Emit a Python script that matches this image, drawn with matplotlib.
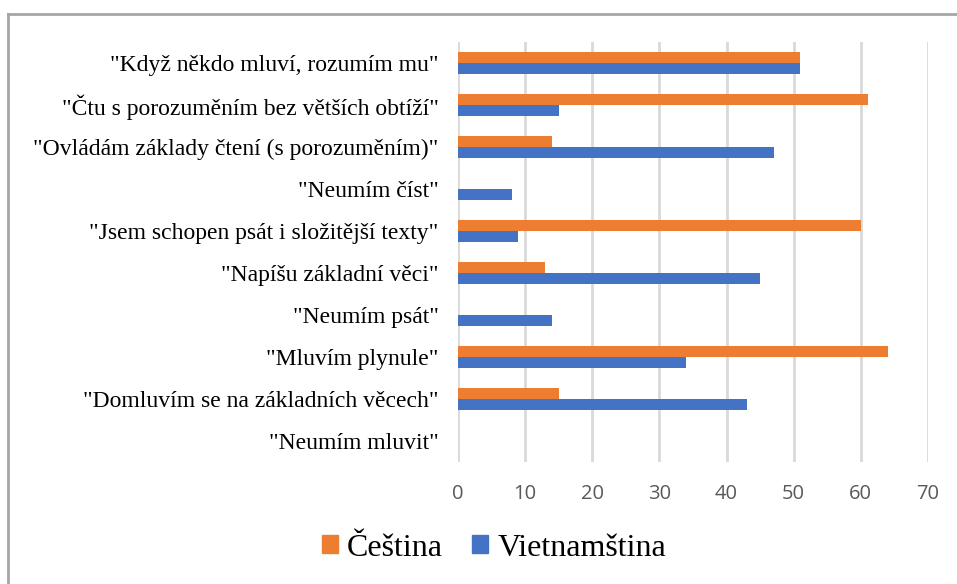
import matplotlib
matplotlib.use("Agg")
import matplotlib.pyplot as plt
from matplotlib.lines import Line2D
from matplotlib.patches import Patch
import numpy as np

categories = [
    '"Když někdo mluví, rozumím mu"',
    '"Čtu s porozuměním bez větších obtíží"',
    '"Ovládám základy čtení (s porozuměním)"',
    '"Neumím číst"',
    '"Jsem schopen psát i složitější texty"',
    '"Napíšu základní věci"',
    '"Neumím psát"',
    '"Mluvím plynule"',
    '"Domluvím se na základních věcech"',
    '"Neumím mluvit"',
]
cestina = [51, 61, 14, 0, 60, 13, 0, 64, 15, 0]
vietnamstina = [51, 15, 47, 8, 9, 45, 14, 34, 43, 0]
xticks = [0, 10, 20, 30, 40, 50, 60, 70]

ORANGE = "#ED7D31"
BLUE = "#4472C4"

fig = plt.figure(figsize=(9.57, 5.84), dpi=100)
ax = fig.add_axes([458/957, 1-462/584, (928-458)/957, (462-42)/584])

n = len(categories)
y = np.arange(n)
h = 0.26
ax.barh(y - h/2, cestina, height=h, color=ORANGE, zorder=3)
ax.barh(y + h/2, vietnamstina, height=h, color=BLUE, zorder=3)

ax.set_ylim(n - 0.5, -0.5)
ax.set_xlim(0, 70)
ax.set_xticks(xticks)
ax.set_xticklabels([str(t) for t in xticks], fontfamily="Open Sans", fontsize=14.5, color="#595959")
ax.set_yticks(y)
ax.set_yticklabels(categories, fontfamily="Liberation Serif", fontsize=17, color="black")
ax.tick_params(axis="both", length=0)
ax.tick_params(axis="x", pad=16)
ax.tick_params(axis="y", pad=14)
for s in ax.spines.values():
    s.set_visible(False)
ax.grid(axis="x", color="#D9D9D9", linewidth=2, zorder=0)

# frame around chart area
fig.add_artist(Line2D([8/957, 8/957], [0, 1-14/584], transform=fig.transFigure, color="#A6A6A6", linewidth=2))
fig.add_artist(Line2D([8/957, 1], [1-14/584, 1-14/584], transform=fig.transFigure, color="#A6A6A6", linewidth=2))

handles = [Patch(color=ORANGE, label="Čeština"), Patch(color=BLUE, label="Vietnamština")]
fig.legend(handles=handles, loc="center", bbox_to_anchor=(494/957, 1-548/584), ncol=2, frameon=False,
           prop={"family": "Liberation Serif", "size": 23}, handlelength=0.5, handleheight=0.5,
           handletextpad=0.3, columnspacing=0.9)

fig.savefig("out.png", dpi=100)
